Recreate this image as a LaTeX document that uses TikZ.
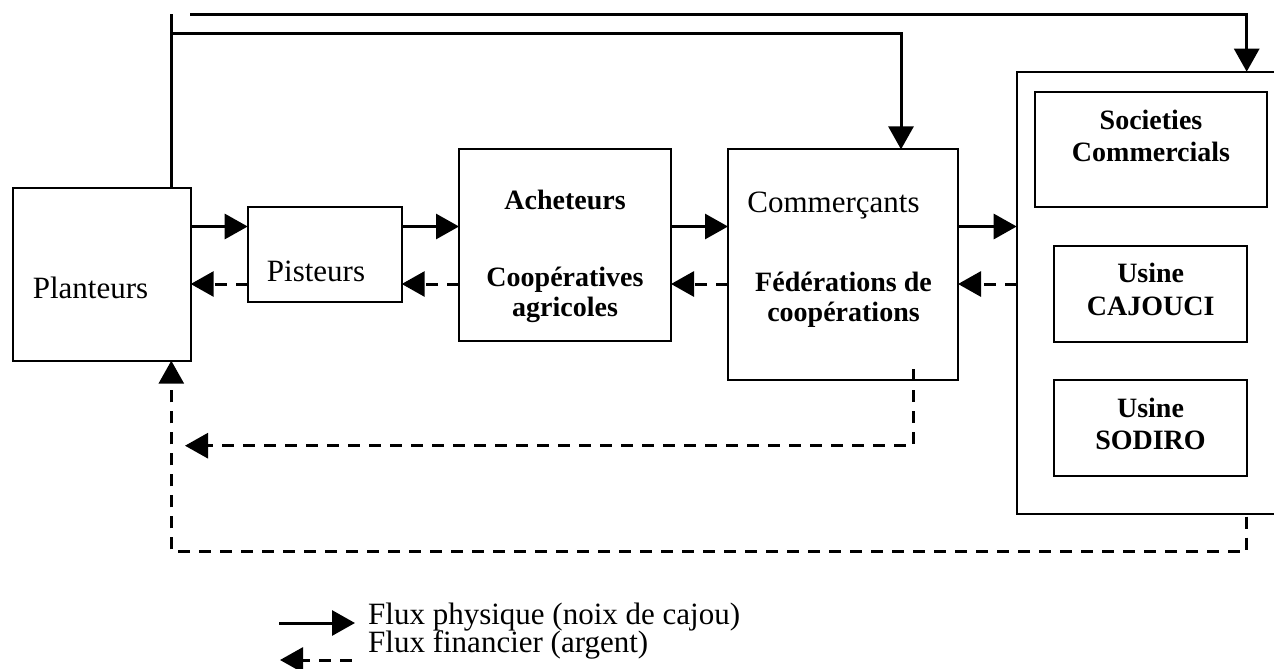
\documentclass[tikz,border=0pt]{standalone}
\usepackage{fontspec}
\setmainfont{Liberation Serif}
\usetikzlibrary{arrows.meta}
\begin{document}
\begin{tikzpicture}[x=1pt,y=-1pt,
  boxnode/.style={draw,line width=2pt,inner sep=0pt,outer sep=0pt},
  rtext/.style={inner sep=0pt,anchor=base,font=\fontsize{31}{31}\selectfont},
  btext/.style={inner sep=0pt,anchor=base,font=\fontsize{28}{28}\selectfont\bfseries},
  phys/.style={line width=3pt,-{Triangle[length=23pt,width=25pt]}},
  fin/.style={line width=3pt,dash pattern=on 12pt off 9pt,-{Triangle[length=23pt,width=25pt]}},
  plainline/.style={line width=3pt}]
\useasboundingbox (0,0) rectangle (1274,669);
\clip (0,0) rectangle (1274,669);
% boxes
\node[boxnode,minimum width=178pt,minimum height=173pt] (plant) at (101.7,274.2) {};
\node[boxnode,minimum width=154pt,minimum height=95.6pt] (pist) at (324.7,254.5) {};
\node[boxnode,minimum width=212pt,minimum height=191.7pt] (ach) at (565,245.2) {};
\node[boxnode,minimum width=230pt,minimum height=230.7pt] (comm) at (843,264.7) {};
\node[boxnode,minimum width=283.3pt,minimum height=442.3pt] (outer) at (1158.35,292.85) {};
\node[boxnode,minimum width=231.7pt,minimum height=115pt] (soc) at (1150.8,149.2) {};
\node[boxnode,minimum width=193pt,minimum height=96pt] (caj) at (1150.5,293.7) {};
\node[boxnode,minimum width=193pt,minimum height=95.7pt] (sod) at (1150.5,427.8) {};
% texts
\node[rtext] (tplant) at (90.5,298) {Planteurs};
\node[rtext] (tpist) at (316,281.7) {Pisteurs};
\node[btext] (tach1) at (565,209) {Acheteurs};
\node[btext] (tach2) at (565,286.7) {Coopératives};
\node[btext] (tach3) at (565,316.7) {agricoles};
\node[rtext] (tcomm) at (833.5,212) {Commerçants};
\node[btext] (tfed1) at (843.5,291.7) {Fédérations de};
\node[btext] (tfed2) at (843.5,321.7) {coopérations};
\node[btext] (tsoc1) at (1151,129.3) {Societies};
\node[btext] (tsoc2) at (1151,161) {Commercials};
\node[btext] (tcaj1) at (1150.7,282.7) {Usine};
\node[btext] (tcaj2) at (1150.7,315) {CAJOUCI};
\node[btext] (tsod1) at (1150.5,417) {Usine};
\node[btext] (tsod2) at (1150.5,449) {SODIRO};
% horizontal flows
\coordinate (ys) at (0,226.5);
\coordinate (yd) at (0,284);
\draw[phys] (plant.east |- ys) -- (pist.west |- ys);
\draw[phys] (pist.east |- ys) -- (ach.west |- ys);
\draw[phys] (ach.east |- ys) -- (comm.west |- ys);
\draw[phys] (comm.east |- ys) -- (outer.west |- ys);
\draw[fin] (pist.west |- yd) -- (plant.east |- yd);
\draw[fin] (ach.west |- yd) -- (pist.east |- yd);
\draw[fin] (comm.west |- yd) -- (ach.east |- yd);
\draw[fin] (outer.west |- yd) -- (comm.east |- yd);
% top flows
\coordinate (a1) at (171.3,14.5);
\coordinate (a2) at (171.3,34);
\coordinate (a3) at (901,34);
\draw[plainline] (plant.north -| a1) -- (a1);
\draw[phys] (a2) -- (a3) -- (comm.north -| a3);
\coordinate (b1) at (190,14.5);
\coordinate (b2) at (1246.7,14.5);
\draw[phys] (b1) -- (b2) -- (outer.north -| b2);
% bottom financial flows
\coordinate (c1) at (913,369);
\coordinate (c2) at (913,445.7);
\coordinate (c3) at (185,445.7);
\draw[fin] (c1) -- (c2) -- (c3);
\coordinate (d1) at (1246.7,516.5);
\coordinate (d2) at (1246.7,551.7);
\coordinate (d3) at (171.3,551.7);
\draw[fin] (d1) -- (d2) -- (d3) -- (plant.south -| d3);
% legend
\coordinate (l1) at (279.3,623);
\coordinate (l2) at (355,623);
\draw[phys] (l1) -- (l2);
\coordinate (l3) at (351.7,660);
\coordinate (l4) at (280,660);
\draw[fin] (l3) -- (l4);
\node[rtext,anchor=base west] (leg1) at (368,624) {Flux physique (noix de cajou)};
\node[rtext,anchor=base west] (leg2) at (368,652.5) {Flux financier (argent)};
\end{tikzpicture}
\end{document}
